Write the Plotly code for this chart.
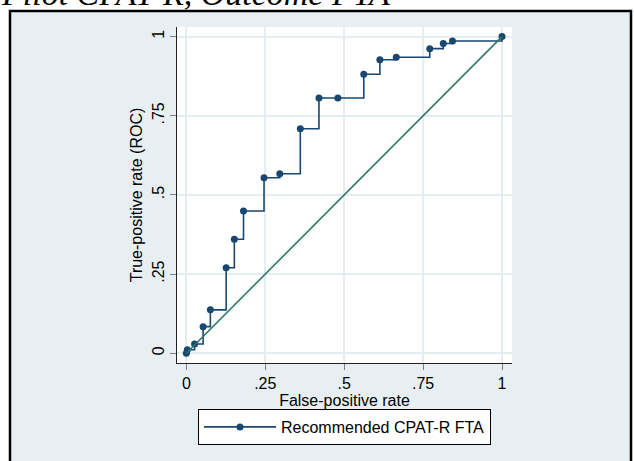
import plotly.graph_objects as go

# ROC points
fpr = [0, 0.003, 0.026, 0.053, 0.076, 0.126, 0.152, 0.181, 0.246, 0.296,
       0.361, 0.420, 0.480, 0.562, 0.613, 0.665, 0.771, 0.814, 0.843, 1.0]
tpr = [0, 0.011, 0.029, 0.084, 0.137, 0.270, 0.360, 0.449, 0.554, 0.567,
       0.709, 0.806, 0.806, 0.881, 0.927, 0.935, 0.962, 0.978, 0.986, 1.0]
ref_line = [0, 1]

tick_vals = [0, 0.25, 0.5, 0.75, 1]
tick_text = ["0", ".25", ".5", ".75", "1"]

series_name = "Recommended CPAT-R FTA"
chart_title = "Pilot CPAT-R, Outcome FTA"

W, H = 634, 461
ml, mt = 177, 27
pw, ph = 335, 336
mr, mb = W - ml - pw, H - mt - ph


def px_x(p):
    # pixel column -> paper x
    return (p - ml) / pw


def px_y(p):
    # pixel row -> paper y
    return (mt + ph - p) / ph


fig = go.Figure()

fig.add_trace(go.Scatter(
    x=fpr, y=tpr, name=series_name,
    mode="lines+markers", line_shape="hv",
    line=dict(color="#1a476f", width=1.6),
    marker=dict(color="#1a476f", size=7),
))
fig.add_trace(go.Scatter(
    x=ref_line, y=ref_line, mode="lines", showlegend=False,
    line=dict(color="#2f7868", width=1.6),
))

axis_font = dict(family="Liberation Sans", size=16, color="black")
axis_common = dict(
    tickvals=tick_vals, ticktext=tick_text,
    ticks="outside", ticklen=6, tickcolor="#7f7f7f", tickwidth=1,
    showline=True, linecolor="#222222", linewidth=1,
    showgrid=True, gridcolor="#e5edf0", gridwidth=1.6,
    zeroline=False,
    tickfont=axis_font,
)

fig.update_xaxes(axis_common, range=[-0.0297, 1.0316],
                 title=dict(text="False-positive rate", standoff=0, font=axis_font))
fig.update_yaxes(axis_common, range=[-0.0308, 1.0303], tickangle=-90,
                 title=dict(text="True-positive rate (ROC)", standoff=2, font=axis_font))

shapes = [
    # white strips outside the graph frame
    dict(type="rect", xref="paper", yref="paper", x0=px_x(-40), x1=px_x(W + 40),
         y0=px_y(10), y1=px_y(-40), fillcolor="white", line_width=0, layer="below"),
    dict(type="rect", xref="paper", yref="paper", x0=px_x(-40), x1=px_x(9),
         y0=px_y(H + 40), y1=px_y(-40), fillcolor="white", line_width=0, layer="below"),
    dict(type="rect", xref="paper", yref="paper", x0=px_x(632), x1=px_x(W + 40),
         y0=px_y(H + 40), y1=px_y(-40), fillcolor="white", line_width=0, layer="below"),
    # black frame round the graph region
    dict(type="rect", xref="paper", yref="paper", x0=px_x(10), x1=px_x(631),
         y0=px_y(H + 30), y1=px_y(11), line=dict(color="black", width=2.5)),
]

fig.update_layout(
    width=W, height=H,
    margin=dict(l=ml, r=mr, t=mt, b=mb),
    paper_bgcolor="#e8eff2", plot_bgcolor="white",
    font=dict(family="Liberation Sans", size=16, color="black"),
    shapes=shapes,
    legend=dict(
        orientation="h", x=0.5, xanchor="center", y=px_y(409), yanchor="top",
        bgcolor="white", bordercolor="black", borderwidth=1,
        itemwidth=72, font=dict(size=16),
    ),
    annotations=[dict(
        text="<i>" + chart_title + "</i>", xref="paper", yref="paper",
        x=px_x(-1), y=px_y(14), xanchor="left", yanchor="bottom",
        showarrow=False, font=dict(family="Liberation Serif", size=34, color="black"),
    )],
)

# page body margin off so the figure sits at the window corner
fig.write_html("out.html", config={"displayModeBar": False},
               post_script="document.body.style.margin='0px';")
